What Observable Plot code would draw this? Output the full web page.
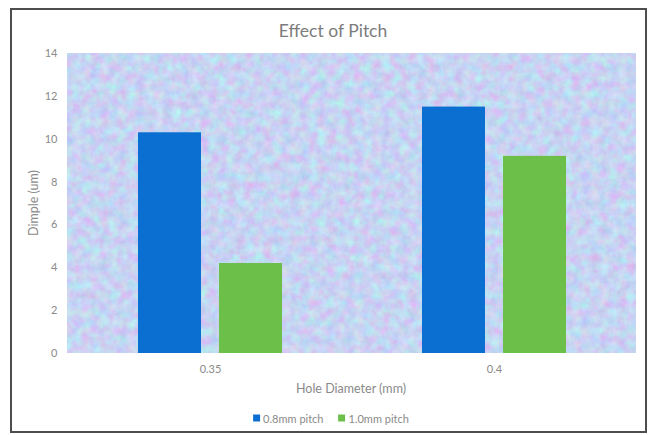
<!DOCTYPE html>
<html>
<head>
<meta charset="utf-8">
<script src="https://cdn.jsdelivr.net/npm/d3@7"></script>
<script src="https://cdn.jsdelivr.net/npm/@observablehq/plot@0.6"></script>
<style>
  html, body { margin: 0; padding: 0; background: #fff; }
  #wrap { position: relative; width: 649px; height: 435px; background: #fff; font-family: Lato, "Open Sans", sans-serif; overflow: hidden; }
  #border { position: absolute; left: 10px; top: 8px; width: 633px; height: 421px; border: 2px solid #4d4d4d; box-sizing: content-box; }
  #chart { position: absolute; left: 0; top: 0; }
  .lbl { position: absolute; color: #8a8a8a; font-size: 12.5px; white-space: nowrap; }
  #title { position: absolute; left: 333px; top: 30px; transform: translate(-50%, -50%); color: #7c7c7c; font-size: 17.5px; white-space: nowrap; }
  #ylabel { left: 33px; top: 203px; transform: translate(-50%, -50%) rotate(-90deg); }
  #xlabel { left: 351px; top: 388px; transform: translate(-50%, -50%); }
  #legend { position: absolute; left: 331px; top: 418px; transform: translate(-50%, -50%); display: flex; gap: 15px; color: #8a8a8a; font-size: 11px; white-space: nowrap; }
  #legend span.item { display: flex; align-items: center; gap: 3px; }
  #legend span.sw { display: inline-block; width: 7px; height: 7px; }
</style>
</head>
<body>
<div id="wrap">
  <div id="border"></div>
  <div id="chart"></div>
  <div id="title">Effect of Pitch</div>
  <div class="lbl" id="ylabel">Dimple (um)</div>
  <div class="lbl" id="xlabel">Hole Diameter (mm)</div>
  <div id="legend"></div>
</div>
<script>
const categories = ["0.35", "0.4"];
const series = ["0.8mm pitch", "1.0mm pitch"];
const pitch08 = [10.3, 11.5];
const pitch10 = [4.2, 9.2];
const yTicks = [0, 2, 4, 6, 8, 10, 12, 14];
const colors = ["#0a6fd0", "#6cc04a"];

const rows = categories.flatMap((c, i) => [
  { diameter: c, series: series[0], value: pitch08[i] },
  { diameter: c, series: series[1], value: pitch10[i] }
]);

const W = 649, H = 435;
const chart = Plot.plot({
  width: W,
  height: H,
  marginLeft: 67,
  marginRight: 13,
  marginTop: 53,
  marginBottom: 82,
  style: { fontFamily: "Lato, 'Open Sans', sans-serif", fontSize: "11px", color: "#8a8a8a", background: "transparent" },
  facet: { data: rows, x: "diameter" },
  fx: { domain: categories, padding: 0, label: null, tickSize: 0, tickPadding: 12 },
  x: { domain: series, axis: null, paddingInner: 0.22, paddingOuter: 0.848 },
  y: { domain: [0, 14], ticks: yTicks, tickSize: 0, tickPadding: 11, label: null },
  color: { domain: series, range: colors },
  marks: [
    Plot.barY(rows, { x: "series", y: "value", fill: "series" })
  ]
});

// textured plot-area background, positioned from the scales
const svgNS = "http://www.w3.org/2000/svg";
const yr = chart.scale("y").range;
const fxr = chart.scale("fx").range;
const defs = document.createElementNS(svgNS, "defs");
defs.innerHTML = `
  <filter id="tex" x="0" y="0" width="100%" height="100%" color-interpolation-filters="sRGB">
    <feTurbulence type="fractalNoise" baseFrequency="0.11" numOctaves="3" seed="7" result="n"/>
    <feColorMatrix in="n" type="matrix" values="
      0.26 0 0 0 0.65
      -0.16 0.24 0 0 0.79
      0 0 0.10 0 0.90
      0 0 0 0 1"/>
  </filter>`;
const bg = document.createElementNS(svgNS, "rect");
const x0 = Math.min(...fxr), x1 = Math.max(...fxr);
const y0 = Math.min(...yr), y1 = Math.max(...yr);
bg.setAttribute("x", x0);
bg.setAttribute("y", y0);
bg.setAttribute("width", x1 - x0);
bg.setAttribute("height", y1 - y0);
bg.setAttribute("fill", "#c8d2f2");
bg.setAttribute("filter", "url(#tex)");
const firstG = chart.querySelector("g");
chart.insertBefore(defs, firstG);
chart.insertBefore(bg, firstG);

document.getElementById("chart").appendChild(chart);

const legend = document.getElementById("legend");
series.forEach((s, i) => {
  const item = document.createElement("span");
  item.className = "item";
  const sw = document.createElement("span");
  sw.className = "sw";
  sw.style.background = colors[i];
  item.appendChild(sw);
  item.appendChild(document.createTextNode(s));
  legend.appendChild(item);
});
</script>
</body>
</html>
